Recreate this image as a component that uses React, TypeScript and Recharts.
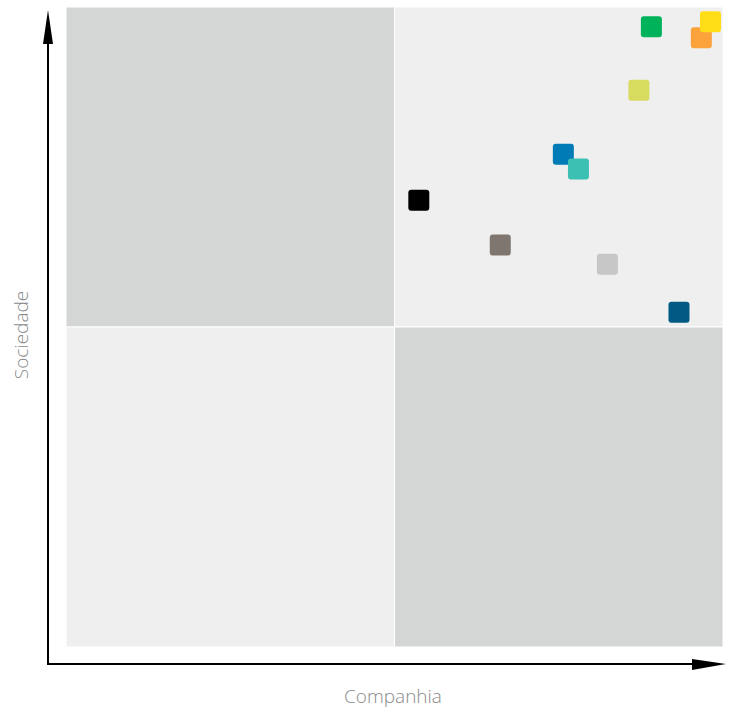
import React from 'react';
import { ScatterChart, Scatter, XAxis, YAxis, ReferenceArea, Cell } from 'recharts';

// Companhia (x) vs Sociedade (y), 0–100 scale
const names = ['black', 'brown', 'blue', 'teal', 'lightgray', 'yellowgreen', 'green', 'darkblue', 'orange', 'yellow'];
const companhia = [53.7, 66.1, 75.7, 78.0, 82.4, 87.2, 89.1, 93.3, 96.7, 98.1];
const sociedade = [69.8, 62.8, 77.0, 74.7, 59.8, 87.0, 96.9, 52.3, 95.2, 97.7];
const colors = ['#000000', '#7f766f', '#007bb5', '#3cc0b4', '#c6c7c6', '#d7dc5f', '#00b259', '#005a84', '#fba23a', '#ffdd17'];

const quadrants = [
  { x1: 0, x2: 50, y1: 50, y2: 100, fill: '#d4d5d5' },
  { x1: 50, x2: 100, y1: 50, y2: 100, fill: '#efefef' },
  { x1: 0, x2: 50, y1: 0, y2: 50, fill: '#efefef' },
  { x1: 50, x2: 100, y1: 0, y2: 50, fill: '#d4d5d5' },
];

const data = names.map((name, i) => ({ name, x: companhia[i], y: sociedade[i], color: colors[i] }));

const W = 730;
const H = 708;

function Square(props: any) {
  const { cx, cy, fill } = props;
  const s = 21;
  return <rect x={cx - s / 2} y={cy - s / 2} width={s} height={s} rx={3} ry={3} fill={fill} />;
}

function AxisArrows() {
  const labelStyle = { fontFamily: '"Open Sans", sans-serif', fontSize: 19, fill: '#8a8a8a', fontWeight: 300 };
  return (
    <g>
      <line x1={48} y1={665} x2={48} y2={40} stroke="#000" strokeWidth={2} />
      <polygon points="48,10 43,44 53,44" fill="#000" />
      <line x1={47} y1={664} x2={695} y2={664} stroke="#000" strokeWidth={2} />
      <polygon points="726,664 692,659 692,670" fill="#000" />
      <text x={393} y={703} textAnchor="middle" style={labelStyle}>
        Companhia
      </text>
      <text x={28} y={335} textAnchor="middle" transform="rotate(-90 28 335)" style={labelStyle}>
        Sociedade
      </text>
    </g>
  );
}

export default function App() {
  return (
    <div style={{ position: 'absolute', left: 0, top: 0, width: W, height: H, background: '#fff' }}>
      <ScatterChart width={W} height={H} margin={{ top: 7, right: 7, left: 66, bottom: 61 }}>
        <XAxis type="number" dataKey="x" domain={[0, 100]} hide />
        <YAxis type="number" dataKey="y" domain={[0, 100]} hide />
        {quadrants.map((q, i) => (
          <ReferenceArea
            key={i}
            x1={q.x1}
            x2={q.x2}
            y1={q.y1}
            y2={q.y2}
            fill={q.fill}
            fillOpacity={1}
            stroke="#ffffff"
            strokeWidth={1}
          />
        ))}
        <Scatter data={data} shape={<Square />} isAnimationActive={false}>
          {data.map((d) => (
            <Cell key={d.name} fill={d.color} />
          ))}
        </Scatter>
        <AxisArrows />
      </ScatterChart>
    </div>
  );
}
